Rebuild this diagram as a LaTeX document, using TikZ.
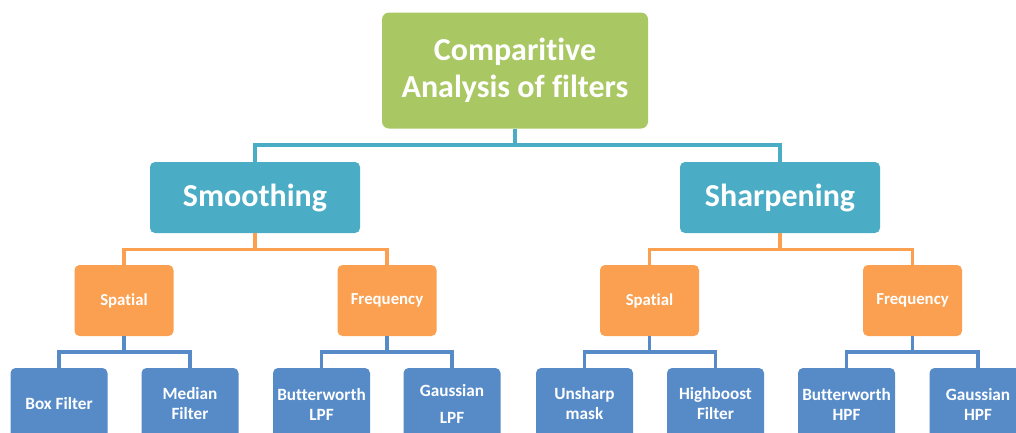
\documentclass[tikz,border=0pt]{standalone}
\usepackage{fontspec}
\setmainfont{Carlito}[Ligatures=NoCommon]
\definecolor{rootgreen}{RGB}{169,200,100}
\definecolor{midcyan}{RGB}{75,172,198}
\definecolor{subor}{RGB}{250,160,80}
\definecolor{leafblue}{RGB}{86,139,200}
\tikzset{
  box/.style={rectangle, rounded corners=5pt, text=white, align=center, inner sep=0pt, font=\bfseries},
  rootbox/.style={box, fill=rootgreen, minimum width=266pt, minimum height=116pt, rounded corners=7pt, font=\bfseries\fontsize{32}{37}\selectfont},
  midbox/.style={box, fill=midcyan, minimum width=205pt, minimum height=71pt, font=\bfseries\fontsize{32}{37}\selectfont},
  subbox/.style={box, fill=subor, minimum width=99pt, minimum height=71pt, font=\bfseries\fontsize{16.8}{20}\selectfont},
  leafbox/.style={box, fill=leafblue, minimum width=97pt, minimum height=72pt, font=\bfseries\fontsize{17.2}{20}\selectfont},
  linkc/.style={draw=midcyan, line width=3.5pt, line join=miter},
  linko/.style={draw=subor, line width=3.5pt, line join=miter},
  linkb/.style={draw=leafblue, line width=3.5pt, line join=miter},
}
\begin{document}
\begin{tikzpicture}[x=1pt,y=-1pt]
\useasboundingbox (0,0) rectangle (1016,432);
\clip (0,0) rectangle (1016,432);
\node[rootbox] (root) at (515,70.5) {Comparitive\\Analysis of filters};
\node[midbox, minimum width=210pt] (smooth) at (255,197.5) {Smoothing};
\node[midbox, minimum width=200pt] (sharp) at (780,197.5) {Sharpening};
\node[subbox] (spl) at (124,300.5) {Spatial};
\node[subbox] (frl) at (387,300.5) {Frequency};
\node[subbox] (spr) at (649.5,300.5) {Spatial};
\node[subbox] (frr) at (912.5,300.5) {Frequency};
\node[leafbox] (l1) at (59,404) {Box Filter};
\node[leafbox] (l2) at (190,404) {Median\\Filter};
\node[leafbox] (l3) at (321.5,404) {Butterworth\\LPF};
\node[leafbox, font=\bfseries\fontsize{17.2}{27}\selectfont] (l4) at (452,404) {Gaussian\\LPF};
\node[leafbox] (l5) at (584.5,404) {Unsharp\\mask};
\node[leafbox] (l6) at (715.5,404) {Highboost\\Filter};
\node[leafbox] (l7) at (846.5,404) {Butterworth\\HPF};
\node[leafbox] (l8) at (978,404) {Gaussian\\HPF};
\draw[linkc] (root.south) -- ++(0,16.5) -| (smooth.north);
\draw[linkc] (root.south) -- ++(0,16.5) -| (sharp.north);
\draw[linko] (smooth.south) -- ++(0,16.5) -| (spl.north);
\draw[linko] (smooth.south) -- ++(0,16.5) -| (frl.north);
\draw[linko] (sharp.south) -- ++(0,16.5) -| (spr.north);
\draw[linko] (sharp.south) -- ++(0,16.5) -| (frr.north);
\draw[linkb] (spl.south) -- ++(0,16) -| (l1.north);
\draw[linkb] (spl.south) -- ++(0,16) -| (l2.north);
\draw[linkb] (frl.south) -- ++(0,16) -| (l3.north);
\draw[linkb] (frl.south) -- ++(0,16) -| (l4.north);
\draw[linkb] (spr.south) -- ++(0,16) -| (l5.north);
\draw[linkb] (spr.south) -- ++(0,16) -| (l6.north);
\draw[linkb] (frr.south) -- ++(0,16) -| (l7.north);
\draw[linkb] (frr.south) -- ++(0,16) -| (l8.north);
\end{tikzpicture}
\end{document}
